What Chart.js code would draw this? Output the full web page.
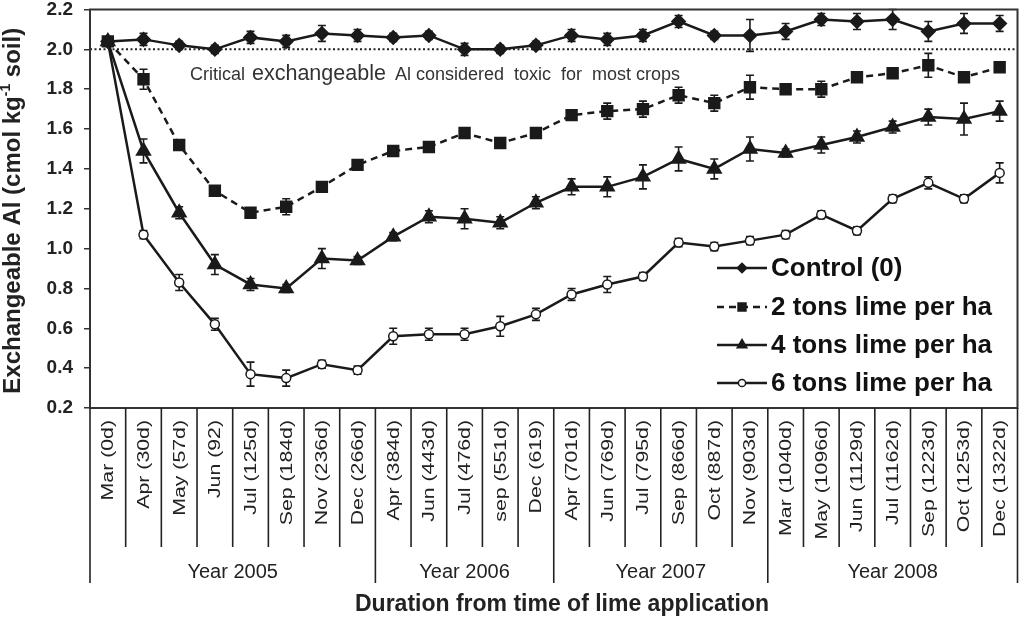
<!DOCTYPE html>
<html>
<head>
<meta charset="utf-8">
<script src="https://cdn.jsdelivr.net/npm/chart.js@4.4.1/dist/chart.umd.min.js"></script>
<style>
  body { margin: 0; background: #fff; }
  #wrap { width: 1027px; height: 619px; position: relative; }
</style>
</head>
<body>
<div id="wrap"><canvas id="mycanvas"></canvas></div>
<script>
// categories (sampling dates) and the year groups below them
var categories = ['Mar (0d)', 'Apr (30d)', 'May (57d)', 'Jun (92)', 'Jul (125d)', 'Sep (184d)', 'Nov (236d)', 'Dec (266d)',
                  'Apr (384d)', 'Jun (443d)', 'Jul (476d)', 'sep (551d)', 'Dec (619)',
                  'Apr (701d)', 'Jun (769d)', 'Jul (795d)', 'Sep (866d)', 'Oct (887d)', 'Nov (903d)',
                  'Mar (1040d)', 'May (1096d)', 'Jun (1129d)', 'Jul (1162d)', 'Sep (1223d)', 'Oct (1253d)', 'Dec (1322d)'];
var years = ['Year 2005', 'Year 2006', 'Year 2007', 'Year 2008'];
var yearCounts = [8, 5, 6, 7];

var control = [2.04, 2.05, 2.02, 2.00, 2.06, 2.04, 2.08, 2.07, 2.06, 2.07, 2.00, 2.00, 2.02,
               2.07, 2.05, 2.07, 2.14, 2.07, 2.07, 2.09, 2.15, 2.14, 2.15, 2.09, 2.13, 2.13];
var lime2 = [2.04, 1.85, 1.52, 1.29, 1.18, 1.21, 1.31, 1.42, 1.49, 1.51, 1.58, 1.53, 1.58,
             1.67, 1.69, 1.70, 1.77, 1.73, 1.81, 1.80, 1.80, 1.86, 1.88, 1.92, 1.86, 1.91];
var lime4 = [2.04, 1.49, 1.18, 0.92, 0.82, 0.80, 0.95, 0.94, 1.06, 1.16, 1.15, 1.13, 1.23,
             1.31, 1.31, 1.36, 1.45, 1.40, 1.50, 1.48, 1.52, 1.56, 1.61, 1.66, 1.65, 1.69];
var lime6 = [2.04, 1.07, 0.83, 0.62, 0.37, 0.35, 0.42, 0.39, 0.56, 0.57, 0.57, 0.61, 0.67,
             0.77, 0.82, 0.86, 1.03, 1.01, 1.04, 1.07, 1.17, 1.09, 1.25, 1.33, 1.25, 1.38];

// standard errors (half length of the bars)
var controlErr = [0.02, 0.03, 0.02, 0.02, 0.03, 0.03, 0.04, 0.03, 0.02, 0.02, 0.03, 0.02, 0.02,
                  0.03, 0.03, 0.03, 0.03, 0.02, 0.08, 0.04, 0.03, 0.04, 0.05, 0.05, 0.05, 0.04];
var lime2Err = [0.02, 0.05, 0.02, 0.02, 0.02, 0.04, 0.02, 0.02, 0.02, 0.02, 0.02, 0.02, 0.02,
                0.02, 0.04, 0.04, 0.04, 0.04, 0.06, 0.02, 0.04, 0.02, 0.02, 0.06, 0.02, 0.02];
var lime4Err = [0.02, 0.06, 0.03, 0.05, 0.03, 0.02, 0.05, 0.02, 0.02, 0.03, 0.05, 0.03, 0.03,
                0.04, 0.05, 0.06, 0.06, 0.05, 0.06, 0.02, 0.04, 0.03, 0.03, 0.04, 0.08, 0.05];
var lime6Err = [0.02, 0.02, 0.04, 0.03, 0.06, 0.04, 0.02, 0.02, 0.04, 0.03, 0.03, 0.05, 0.03,
                0.03, 0.04, 0.02, 0.02, 0.02, 0.02, 0.02, 0.02, 0.02, 0.02, 0.03, 0.02, 0.05];

var yTicks = [0.2, 0.4, 0.6, 0.8, 1.0, 1.2, 1.4, 1.6, 1.8, 2.0, 2.2];
var criticalLevel = 2.0;

var ink = '#1a1a1a';
var FONT = '"Liberation Sans", Arial, sans-serif';

// error bars, the dotted critical line, the frame, the category table and the legend
var extras = {
    id: 'extras',
    beforeDatasetsDraw: function(chart) {
        var ctx = chart.ctx, ya = chart.scales.y, area = chart.chartArea;
        ctx.save();
        var yc = ya.getPixelForValue(criticalLevel);
        ctx.strokeStyle = '#222';
        ctx.lineWidth = 2;
        ctx.setLineDash([2, 2.5]);
        ctx.beginPath();
        ctx.moveTo(area.left, yc);
        ctx.lineTo(area.right, yc);
        ctx.stroke();
        ctx.setLineDash([]);
        ctx.strokeStyle = ink;
        ctx.lineWidth = 1.6;
        chart.data.datasets.forEach(function(ds, di) {
            var meta = chart.getDatasetMeta(di);
            meta.data.forEach(function(pt, i) {
                var e = ds.err[i];
                var y1 = ya.getPixelForValue(ds.data[i] + e);
                var y2 = ya.getPixelForValue(ds.data[i] - e);
                ctx.beginPath();
                ctx.moveTo(pt.x, y1); ctx.lineTo(pt.x, y2);
                ctx.moveTo(pt.x - 4, y1); ctx.lineTo(pt.x + 4, y1);
                ctx.moveTo(pt.x - 4, y2); ctx.lineTo(pt.x + 4, y2);
                ctx.stroke();
            });
        });
        ctx.restore();
    },
    afterDraw: function(chart) {
        var ctx = chart.ctx, area = chart.chartArea, xa = chart.scales.x;
        ctx.save();
        // frame
        ctx.strokeStyle = '#333';
        ctx.lineWidth = 2;
        ctx.strokeRect(area.left, area.top, area.right - area.left, area.bottom - area.top);

        // annotation text
        ctx.fillStyle = '#333';
        ctx.textBaseline = 'alphabetic';
        ctx.textAlign = 'left';
        ctx.font = '18px ' + FONT;
        ctx.fillText('Critical', 190, 80);
        ctx.font = '21.5px ' + FONT;
        ctx.fillText('exchangeable', 252, 80);
        ctx.font = '18px ' + FONT;
        ctx.fillText('Al considered  toxic  for  most crops', 395, 80);

        // category table under the axis
        var step = xa.getPixelForValue(1) - xa.getPixelForValue(0);
        ctx.strokeStyle = '#222';
        ctx.lineWidth = 1.6;
        var starts = [0];
        yearCounts.forEach(function(c, k) { starts.push(starts[k] + c); });
        for (var i = 0; i <= categories.length; i++) {
            var x = xa.getPixelForValue(i) - step / 2;
            var isYear = starts.indexOf(i) >= 0;
            ctx.beginPath();
            ctx.moveTo(x, area.bottom);
            ctx.lineTo(x, isYear ? area.bottom + 175 : area.bottom + 139);
            ctx.stroke();
        }
        ctx.fillStyle = '#222';
        ctx.font = '16px ' + FONT;
        categories.forEach(function(lab, i) {
            var x = xa.getPixelForValue(i);
            ctx.save();
            ctx.translate(x + 1, area.bottom + 12);
            ctx.rotate(-Math.PI / 2);
            ctx.scale(1.33, 1);
            ctx.textAlign = 'right';
            ctx.textBaseline = 'middle';
            ctx.fillText(lab, 0, 0);
            ctx.restore();
        });
        ctx.font = '20px ' + FONT;
        ctx.textAlign = 'center';
        ctx.textBaseline = 'middle';
        years.forEach(function(y, k) {
            var x0 = xa.getPixelForValue(starts[k]) - step / 2;
            var x1 = xa.getPixelForValue(starts[k + 1] - 1) + step / 2;
            ctx.fillText(y, (x0 + x1) / 2, area.bottom + 164);
        });
        ctx.font = 'bold 23px ' + FONT;
        ctx.fillText('Duration from time of lime application', 562, 605);

        // y axis title with superscript
        ctx.save();
        ctx.translate(13, (area.top + area.bottom) / 2 + 2);
        ctx.rotate(-Math.PI / 2);
        ctx.textBaseline = 'middle';
        ctx.textAlign = 'left';
        var p1 = 'Exchangeable Al (cmol kg', sup = '-1', p2 = ' soil)';
        ctx.font = 'bold 24px ' + FONT;
        var w1 = ctx.measureText(p1).width, w3 = ctx.measureText(p2).width;
        ctx.font = 'bold 14px ' + FONT;
        var w2 = ctx.measureText(sup).width;
        var sx = -(w1 + w2 + w3) / 2;
        ctx.font = 'bold 24px ' + FONT;
        ctx.fillText(p1, sx, 0);
        ctx.font = 'bold 14px ' + FONT;
        ctx.fillText(sup, sx + w1, -7);
        ctx.font = 'bold 24px ' + FONT;
        ctx.fillText(p2, sx + w1 + w2, 0);
        ctx.restore();

        // legend
        var rows = [268, 307, 345, 383];
        chart.data.datasets.forEach(function(ds, di) {
            var y = rows[di];
            ctx.strokeStyle = ink;
            ctx.lineWidth = 2.5;
            ctx.setLineDash(ds.borderDash || []);
            ctx.beginPath();
            ctx.moveTo(717, y); ctx.lineTo(767, y);
            ctx.stroke();
            ctx.setLineDash([]);
            ctx.lineWidth = 1.5;
            ctx.fillStyle = ds.pointBackgroundColor;
            Chart.helpers.drawPoint(ctx, { pointStyle: ds.pointStyle, radius: ds.pointRadius * 0.8, borderWidth: 1.5 }, 742, y);
            ctx.fillStyle = '#111';
            ctx.font = 'bold 26px ' + FONT;
            ctx.textAlign = 'left';
            ctx.textBaseline = 'middle';
            ctx.fillText(ds.label, 771, y + 1);
        });
        ctx.restore();
    }
};

var ctx = document.getElementById('mycanvas');
var chart = new Chart(ctx, {
    type: 'line',
    data: {
        labels: categories,
        datasets: [
            { label: 'Control (0)', data: control, err: controlErr, borderColor: ink, borderWidth: 2.5,
              pointStyle: 'rectRot', pointRadius: 6, pointBackgroundColor: ink, pointBorderColor: ink },
            { label: '2 tons lime per ha', data: lime2, err: lime2Err, borderColor: ink, borderWidth: 2.5, borderDash: [7, 5],
              pointStyle: 'rect', pointRadius: 7, pointBackgroundColor: ink, pointBorderColor: ink },
            { label: '4 tons lime per ha', data: lime4, err: lime4Err, borderColor: ink, borderWidth: 2.5,
              pointStyle: 'triangle', pointRadius: 7, pointBackgroundColor: ink, pointBorderColor: ink },
            { label: '6 tons lime per ha', data: lime6, err: lime6Err, borderColor: ink, borderWidth: 2.5,
              pointStyle: 'circle', pointRadius: 4.5, pointBackgroundColor: '#fff', pointBorderColor: ink, pointBorderWidth: 1.5 }
        ]
    },
    options: {
        responsive: true,
        maintainAspectRatio: false,
        animation: false,
        layout: { padding: { top: 9, right: 4, left: 0, bottom: 0 } },
        plugins: { legend: { display: false }, tooltip: { enabled: false } },
        elements: { line: { tension: 0 } },
        scales: {
            x: {
                type: 'category',
                offset: true,
                grid: { display: false },
                border: { display: false },
                ticks: { display: false },
                afterFit: function(s) { s.height = 211; s.paddingLeft = 0; s.paddingRight = 0; }
            },
            y: {
                min: 0.2,
                max: 2.2,
                afterFit: function(s) { s.width = 90; s.paddingTop = 0; s.paddingBottom = 0; },
                afterBuildTicks: function(s) { s.ticks = yTicks.map(function(v) { return { value: v }; }); },
                grid: { drawOnChartArea: false, drawTicks: true, tickLength: 6, color: '#333', lineWidth: 1.5 },
                border: { display: true, color: '#333', width: 2 },
                ticks: {
                    padding: 11,
                    color: '#222',
                    font: { family: FONT, size: 19, weight: 'bold' },
                    callback: function(v) { return Number(v).toFixed(1); }
                }
            }
        }
    },
    plugins: [extras]
});
</script>
</body>
</html>
